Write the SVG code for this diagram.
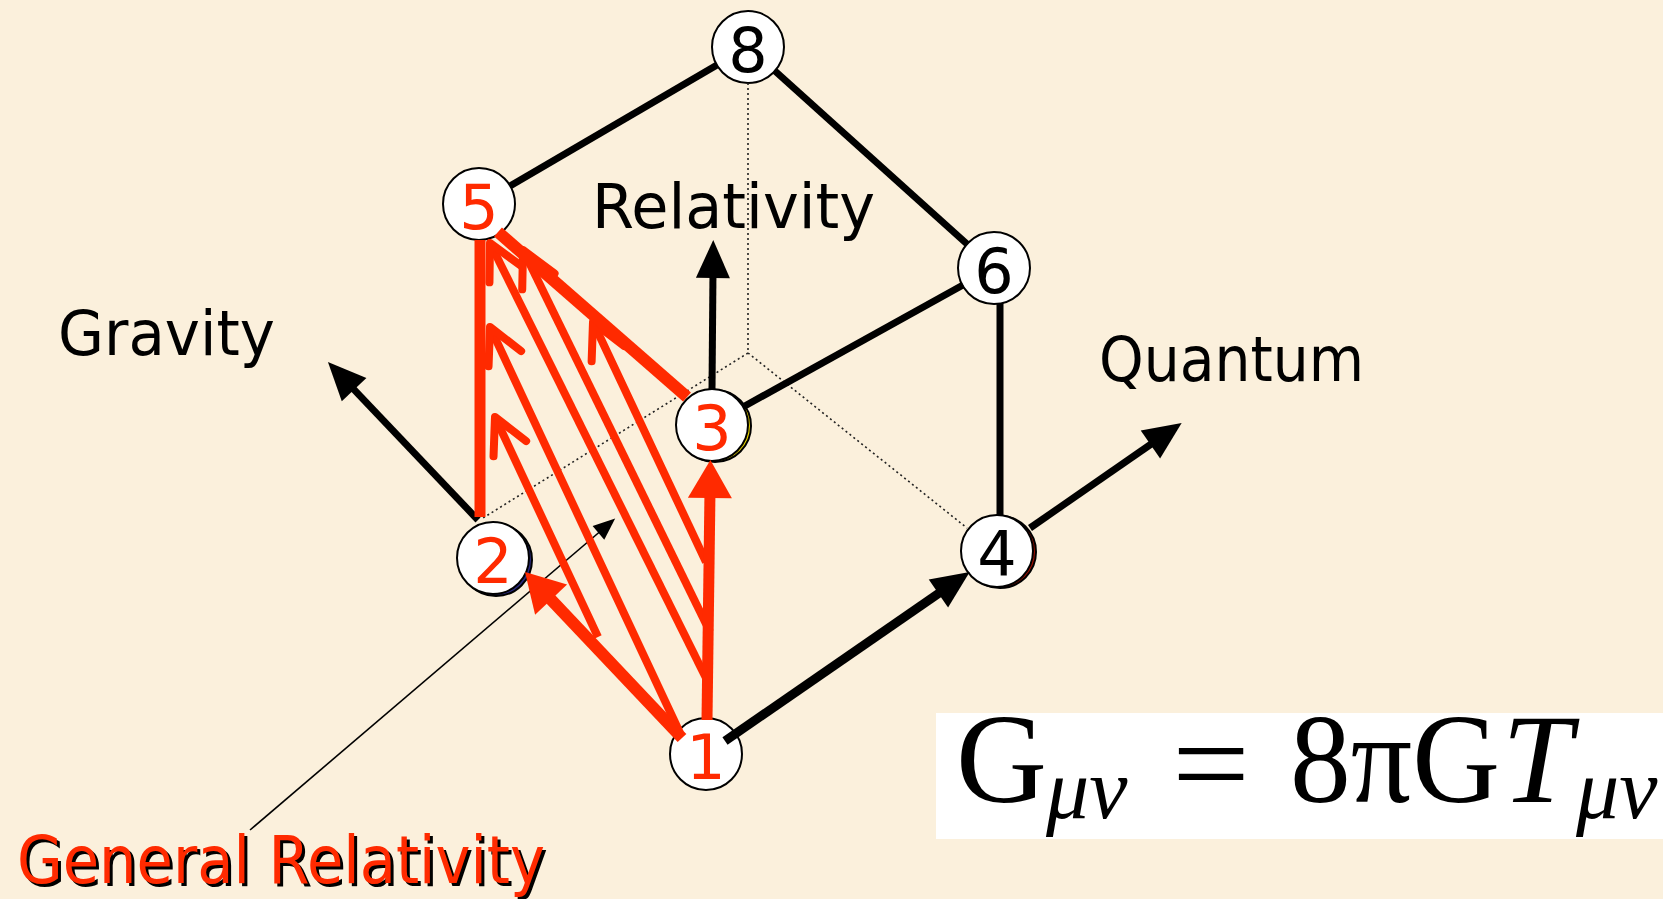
<svg xmlns="http://www.w3.org/2000/svg" width="1663" height="899" viewBox="0 0 1663 899">
<style>
.bg{fill:#fbf0dc}
.nc{fill:#fff;stroke:#000;stroke-width:2}
.lbl{font-family:"DejaVu Sans",sans-serif;font-size:62px;text-anchor:middle}
.red{fill:#ff2a00}
.blk{fill:#000}
.edge{stroke:#000;stroke-width:7;fill:none}
.axisl{stroke:#000;stroke-width:7;fill:none;marker-end:url(#arrB)}
.dot{stroke:#222;stroke-width:1.6;stroke-dasharray:2 3;fill:none}
.rthick{stroke:#ff2a00;stroke-width:11;fill:none}
.rarrow{stroke:#ff2a00;stroke-width:11;fill:none;marker-end:url(#arrR)}
.rthin{stroke:#ff2a00;stroke-width:8;fill:none;marker-end:url(#chev)}
.axis{font-family:"DejaVu Sans",sans-serif;font-size:62px;fill:#000}
.math{font-family:"Liberation Serif","Times New Roman",serif;fill:#000}
</style>
<defs>
<marker id="arrB" markerUnits="userSpaceOnUse" viewBox="-10 -20 45 40" refX="0" refY="0" markerWidth="45" markerHeight="40" orient="auto">
<path d="M30,0 L-8,-17 L-8,17 Z" fill="#000"/>
</marker>
<marker id="arrR" markerUnits="userSpaceOnUse" viewBox="-10 -25 45 50" refX="0" refY="0" markerWidth="45" markerHeight="50" orient="auto">
<path d="M30,0 L-8,-22 L-8,22 Z" fill="#ff2a00"/>
</marker>
<marker id="arrT" markerUnits="userSpaceOnUse" viewBox="-8 -10 26 20" refX="0" refY="0" markerWidth="26" markerHeight="20" orient="auto">
<path d="M16,0 L-6,-9 L-6,9 Z" fill="#000"/>
</marker>
<marker id="chev" markerUnits="userSpaceOnUse" viewBox="-45 -28 55 56" refX="0" refY="0" markerWidth="55" markerHeight="56" orient="auto">
<path d="M-35,-18 L0,0 L-35,18" stroke="#ff2a00" stroke-width="8" stroke-linecap="round" stroke-linejoin="round" fill="none"/>
</marker>
</defs>
<rect class="bg" x="0" y="0" width="1663" height="899"/>

<g id="nodes">
<g id="node8"><circle class="nc" cx="748" cy="47" r="36"/><text class="lbl blk" x="748" y="72">8</text></g>
<g id="node5"><circle class="nc" cx="479" cy="204" r="36"/><text class="lbl red" x="479" y="229">5</text></g>
<g id="node6"><circle class="nc" cx="994" cy="268" r="36"/><text class="lbl blk" x="994" y="293">6</text></g>
<g id="node3"><circle cx="715" cy="426" r="36" fill="#e6d400" stroke="#000" stroke-width="2"/><circle class="nc" cx="712" cy="425" r="36"/><text class="lbl red" x="712" y="450">3</text></g>
<g id="node2"><circle cx="496" cy="560" r="36" fill="#2a2a80" stroke="#000" stroke-width="2"/><circle class="nc" cx="493" cy="558" r="36"/><text class="lbl red" x="493" y="583">2</text></g>
<g id="node4"><circle cx="1000" cy="552" r="36" fill="#a01000" stroke="#000" stroke-width="2"/><circle class="nc" cx="997" cy="551" r="36"/><text class="lbl blk" x="997" y="576">4</text></g>
<g id="node1"><circle class="nc" cx="706" cy="754" r="36"/><text class="lbl red" x="706" y="779">1</text></g>
</g>

<g id="connectors">
<line class="dot" x1="748" y1="83" x2="748" y2="353"/>
<line class="dot" x1="748" y1="353" x2="483" y2="518"/>
<line class="dot" x1="748" y1="353" x2="967" y2="528"/>
<line class="edge" x1="510" y1="186" x2="717" y2="65"/>
<line class="edge" x1="775" y1="71" x2="967" y2="244"/>
<line class="edge" x1="963" y1="285" x2="743" y2="407"/>
<line class="edge" x1="1000" y1="303" x2="1000" y2="516"/>
<line class="axisl" x1="712" y1="390" x2="713" y2="270"/>
<line class="axisl" x1="478" y1="520" x2="348.6" y2="383.8"/>
<line class="axisl" x1="1030" y1="528" x2="1157" y2="440"/>
<line class="axisl" style="stroke-width:9" x1="725" y1="741" x2="945" y2="589"/>
<line stroke="#000" stroke-width="1.6" marker-end="url(#arrT)" x1="250" y1="830" x2="603" y2="529"/>
<line class="rthin" x1="598" y1="637" x2="495" y2="417"/>
<line class="rthin" x1="680" y1="733" x2="490" y2="327"/>
<line class="rthin" x1="707" y1="680" x2="490" y2="243"/>
<line class="rthin" x1="710" y1="632" x2="523" y2="250"/>
<line class="rthin" x1="706" y1="562" x2="593" y2="322"/>
<line class="rthick" x1="480" y1="517" x2="480" y2="240"/>
<line class="rthick" style="stroke-width:12" x1="687" y1="397" x2="498" y2="232"/>
<line class="rarrow" x1="707" y1="720" x2="710" y2="490"/>
<line class="rarrow" style="stroke-width:12" x1="682" y1="738" x2="545.6" y2="593.8"/>
</g>

<g id="labels">
<text class="axis" x="592" y="228" textLength="283" lengthAdjust="spacingAndGlyphs">Relativity</text>
<text class="axis" x="58" y="355" textLength="217" lengthAdjust="spacingAndGlyphs">Gravity</text>
<text class="axis" x="1099" y="381" textLength="265" lengthAdjust="spacingAndGlyphs">Quantum</text>
<text font-family="DejaVu Sans, sans-serif" font-size="66" x="20" y="886" fill="#000" textLength="528" lengthAdjust="spacingAndGlyphs">General Relativity</text>
<text font-family="DejaVu Sans, sans-serif" font-size="66" x="17" y="883" fill="#ff2a00" textLength="528" lengthAdjust="spacingAndGlyphs">General Relativity</text>
</g>

<g id="formula">
<rect x="936" y="713" width="727" height="126" fill="#fff"/>
<text class="math" font-size="126" x="956" y="802">G</text>
<text class="math" font-size="86" font-style="italic" x="1046" y="818">μν</text>
<text class="math" font-size="126" x="1172" y="806" textLength="78" lengthAdjust="spacingAndGlyphs">=</text>
<text class="math" font-size="126" x="1290" y="802" textLength="210" lengthAdjust="spacingAndGlyphs">8πG</text>
<text class="math" font-size="126" font-style="italic" x="1502" y="802">T</text>
<text class="math" font-size="86" font-style="italic" x="1576" y="818">μν</text>
</g>
</svg>
